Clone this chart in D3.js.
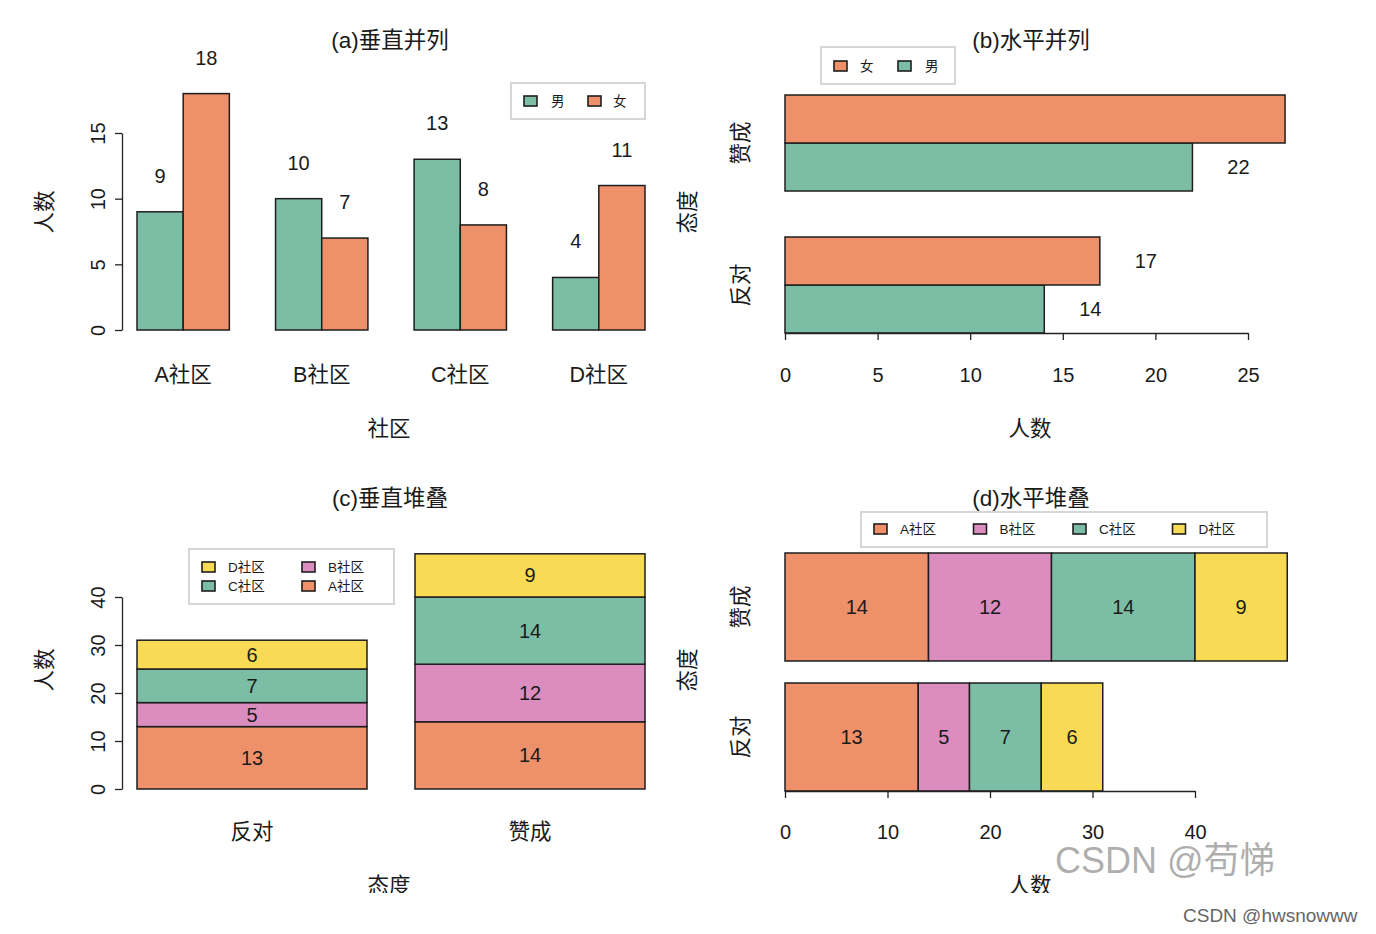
<!DOCTYPE html>
<html><head><meta charset="utf-8">
<script src="https://cdn.jsdelivr.net/npm/d3@7"></script>
<style>
html,body{margin:0;padding:0;background:#fff;}
text{font-family:"Liberation Sans","Noto Sans CJK SC",sans-serif;fill:#1a1a1a;}
</style></head>
<body><svg id="c" width="1376" height="934"></svg>
<script>
// ---------------- data ----------------
const communities = ["A社区","B社区","C社区","D社区"];
const genders = ["男","女"];
const maleByCommunity = [9,10,13,4];
const femaleByCommunity = [18,7,8,11];
const attitudes = ["反对","赞成"];
const maleByAttitude = [14,22];
const femaleByAttitude = [17,27];
const stackCommunityA = [13,14];
const stackCommunityB = [5,12];
const stackCommunityC = [7,14];
const stackCommunityD = [6,9];
const ticksA = [0,5,10,15];
const ticksB = [0,5,10,15,20,25];
const ticksC = [0,10,20,30,40];
const ticksD = [0,10,20,30,40];
const titles = ["(a)垂直并列","(b)水平并列","(c)垂直堆叠","(d)水平堆叠"];

// ---------------- style ----------------
const COL = {A:"#EE916A", B:"#DB8DC0", C:"#7CBEA5", D:"#F8DA55"};
const genderColor = {"男":COL.C, "女":COL.A};
const commColor = [COL.A, COL.B, COL.C, COL.D];
const STROKE = "#1e1e1e";
const FS = 20;
const TFS = 22.5;

const svg = d3.select("#c");
svg.append("rect").attr("width",1376).attr("height",934).attr("fill","#fff");

function txt(g, x, y, s, opt={}){
  const t = g.append("text").attr("x",x).attr("y",y).text(s)
    .attr("text-anchor", opt.anchor||"middle")
    .attr("dominant-baseline","central")
    .attr("font-size", opt.size||FS);
  if(opt.rot) t.attr("transform",`rotate(-90,${x},${y})`);
  return t;
}
function styleAxis(g){
  g.selectAll("path.domain").attr("stroke","#222").attr("stroke-width",1.3);
  g.selectAll(".tick line").attr("stroke","#222").attr("stroke-width",1.3);
  g.selectAll(".tick text").attr("font-size",FS).attr("fill","#1a1a1a")
    .attr("font-family","Liberation Sans, sans-serif");
}
function yAxisR(g, y, ticks, x0){
  const ax = g.append("g").attr("transform",`translate(${x0},0)`)
    .call(d3.axisLeft(y).tickValues(ticks).tickSize(7).tickSizeOuter(0).tickPadding(0));
  ax.selectAll(".tick text").attr("x",null).attr("dy",null)
    .attr("text-anchor","middle").attr("dominant-baseline","central")
    .attr("transform","translate(-24,0) rotate(-90)");
  styleAxis(ax);
}
function xAxisR(g, x, ticks, y0, off){
  const ax = g.append("g").attr("transform",`translate(0,${y0})`)
    .call(d3.axisBottom(x).tickValues(ticks).tickSize(7).tickSizeOuter(0));
  ax.selectAll(".tick text").attr("y",off).attr("dy",null).attr("dominant-baseline","central");
  styleAxis(ax);
}
function legendBox(g, x, y, w, h){
  g.append("rect").attr("x",x).attr("y",y).attr("width",w).attr("height",h)
    .attr("fill","#fff").attr("stroke","#d6d6d6").attr("stroke-width",2);
}
function legendKey(g, x, y, color, label, tx){
  g.append("rect").attr("x",x).attr("y",y-5).attr("width",13).attr("height",10)
    .attr("fill",color).attr("stroke",STROKE).attr("stroke-width",1.6);
  txt(g, tx, y, label, {size:13.5, anchor:"start"});
}

// ============ (a) vertical grouped ============
{
  const g = svg.append("g");
  const x0 = d3.scaleBand().domain(communities).range([137,645]).paddingInner(1/3).paddingOuter(0);
  const x1 = d3.scaleBand().domain(genders).range([0,x0.bandwidth()]);
  const y = d3.scaleLinear().domain([0,15]).range([330,133]);
  const rows = communities.map((c,i)=>({c, vals:[{k:"男",v:maleByCommunity[i]},{k:"女",v:femaleByCommunity[i]}]}));
  const grp = g.selectAll("g.grp").data(rows).join("g").attr("transform",d=>`translate(${x0(d.c)},0)`);
  grp.selectAll("rect").data(d=>d.vals).join("rect")
    .attr("x",d=>x1(d.k)).attr("width",x1.bandwidth())
    .attr("y",d=>y(d.v)).attr("height",d=>y(0)-y(d.v))
    .attr("fill",d=>genderColor[d.k]).attr("stroke",STROKE).attr("stroke-width",1.5);
  grp.selectAll("text.v").data(d=>d.vals).join("text").attr("class","v")
    .attr("x",d=>x1(d.k)+x1.bandwidth()/2).attr("y",d=>y(d.v)-36)
    .attr("text-anchor","middle").attr("dominant-baseline","central").attr("font-size",FS)
    .text(d=>d.v);
  yAxisR(g, y, ticksA, 122);
  communities.forEach(c=>txt(g, x0(c)+x0.bandwidth()/2, 375, c, {size:21.5}));
  txt(g, 389, 429, "社区", {size:21.5});
  txt(g, 45, 212, "人数", {size:21.5, rot:true});
  txt(g, 390, 40, titles[0], {size:TFS});
  legendBox(g, 511, 83, 134, 36);
  legendKey(g, 524, 101, genderColor["男"], "男", 551);
  legendKey(g, 588, 101, genderColor["女"], "女", 613);
}

// ============ (b) horizontal grouped ============
{
  const g = svg.append("g");
  svg.append("clipPath").attr("id","clipB").append("rect").attr("x",700).attr("y",60).attr("width",606).attr("height",300);
  const y0 = d3.scaleBand().domain(attitudes.slice().reverse()).range([95,333]).paddingInner(46/142).paddingOuter(0);
  const y1 = d3.scaleBand().domain(["女","男"]).range([0,y0.bandwidth()]);
  const x = d3.scaleLinear().domain([0,25]).range([785,1248]);
  const rows = attitudes.map((a,i)=>({a, vals:[{k:"男",v:maleByAttitude[i]},{k:"女",v:femaleByAttitude[i]}]}));
  const grp = g.selectAll("g.grp").data(rows).join("g").attr("transform",d=>`translate(0,${y0(d.a)})`);
  grp.selectAll("rect").data(d=>d.vals).join("rect")
    .attr("y",d=>y1(d.k)).attr("height",y1.bandwidth())
    .attr("x",x(0)).attr("width",d=>x(d.v)-x(0))
    .attr("fill",d=>genderColor[d.k]).attr("stroke",STROKE).attr("stroke-width",1.5);
  const lab = g.append("g").attr("clip-path","url(#clipB)");
  rows.forEach(r=>{
    r.vals.forEach(d=>{
      txt(lab, x(d.v)+46, y0(r.a)+y1(d.k)+y1.bandwidth()/2, d.v);
    });
  });
  xAxisR(g, x, ticksB, 333, 42);
  attitudes.forEach(a=>txt(g, 741, y0(a)+y0.bandwidth()/2, a, {size:21.5, rot:true}));
  txt(g, 1030, 429, "人数", {size:21.5});
  txt(g, 688, 212, "态度", {size:21.5, rot:true});
  txt(g, 1031, 40, titles[1], {size:TFS});
  legendBox(g, 821, 47, 134, 37);
  legendKey(g, 834, 66, genderColor["女"], "女", 860);
  legendKey(g, 898, 66, genderColor["男"], "男", 925);
}

// stacked data per attitude
const stackRows = attitudes.map((a,i)=>({a, A:stackCommunityA[i], B:stackCommunityB[i], C:stackCommunityC[i], D:stackCommunityD[i]}));
const stackKeys = ["A","B","C","D"];
const stacked = d3.stack().keys(stackKeys)(stackRows);

// ============ (c) vertical stacked ============
{
  const g = svg.append("g");
  const x = d3.scaleBand().domain(attitudes).range([137,645]).paddingInner(48/278).paddingOuter(0);
  const y = d3.scaleLinear().domain([0,40]).range([789,597]);
  stacked.forEach((layer,li)=>{
    layer.forEach(seg=>{
      const a = seg.data.a;
      g.append("rect").attr("x",x(a)).attr("width",x.bandwidth())
        .attr("y",y(seg[1])).attr("height",y(seg[0])-y(seg[1]))
        .attr("fill",commColor[li]).attr("stroke",STROKE).attr("stroke-width",1.5);
      txt(g, x(a)+x.bandwidth()/2, y((seg[0]+seg[1])/2), seg[1]-seg[0]);
    });
  });
  yAxisR(g, y, ticksC, 122);
  attitudes.forEach(a=>txt(g, x(a)+x.bandwidth()/2, 832, a, {size:21.5}));
  txt(g, 389, 886, "态度", {size:21.5});
  txt(g, 45, 670, "人数", {size:21.5, rot:true});
  txt(g, 390, 498, titles[2], {size:TFS});
  legendBox(g, 189, 549, 205, 55);
  legendKey(g, 202, 567, COL.D, communities[3], 228);
  legendKey(g, 202, 586, COL.C, communities[2], 228);
  legendKey(g, 302, 567, COL.B, communities[1], 328);
  legendKey(g, 302, 586, COL.A, communities[0], 328);
}

// ============ (d) horizontal stacked ============
{
  const g = svg.append("g");
  const y = d3.scaleBand().domain(attitudes.slice().reverse()).range([553,791]).paddingInner(22/130).paddingOuter(0);
  const x = d3.scaleLinear().domain([0,40]).range([785,1195]);
  stacked.forEach((layer,li)=>{
    layer.forEach(seg=>{
      const a = seg.data.a;
      g.append("rect").attr("y",y(a)).attr("height",y.bandwidth())
        .attr("x",x(seg[0])).attr("width",x(seg[1])-x(seg[0]))
        .attr("fill",commColor[li]).attr("stroke",STROKE).attr("stroke-width",1.5);
      txt(g, x((seg[0]+seg[1])/2), y(a)+y.bandwidth()/2, seg[1]-seg[0]);
    });
  });
  xAxisR(g, x, ticksD, 791, 41);
  attitudes.forEach(a=>txt(g, 741, y(a)+y.bandwidth()/2, a, {size:21.5, rot:true}));
  txt(g, 1030, 886, "人数", {size:21.5});
  txt(g, 688, 670, "态度", {size:21.5, rot:true});
  txt(g, 1031, 498, titles[3], {size:TFS});
  legendBox(g, 861, 512, 406, 35);
  [0,1,2,3].forEach(i=>legendKey(g, 874+i*99.5, 529, commColor[i], communities[i], 900+i*99.5));
}

// bottom cut-off of the original image
svg.append("rect").attr("x",0).attr("y",893).attr("width",1376).attr("height",41).attr("fill","#fff");

// watermarks
svg.append("text").attr("x",1055).attr("y",873).text("CSDN @苟悌")
  .attr("font-size",36).attr("font-family","Noto Sans CJK SC, Noto Sans, sans-serif")
  .style("fill","rgba(120,120,120,0.6)");
svg.append("text").attr("x",1183).attr("y",922).text("CSDN @hwsnowww")
  .attr("font-size",19).attr("font-family","Noto Sans, Noto Sans CJK SC, sans-serif")
  .style("fill","#666");
</script></body></html>
